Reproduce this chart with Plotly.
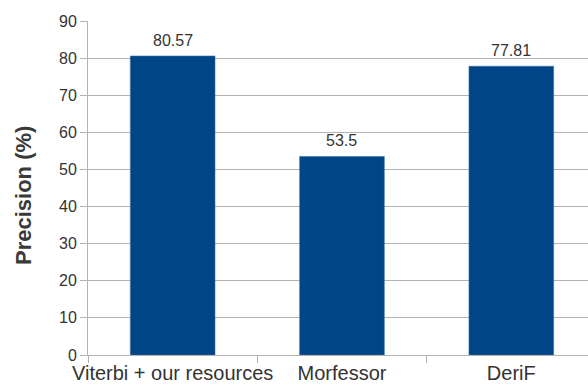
import plotly.graph_objects as go

categories = ["Viterbi + our resources", "Morfessor", "DeriF"]
precision = [80.57, 53.5, 77.81]
value_labels = ["80.57", "53.5", "77.81"]
y_ticks = [0, 10, 20, 30, 40, 50, 60, 70, 80, 90]

FONT = "Liberation Sans, Arial, sans-serif"
GRID = "#b3b3b3"

fig = go.Figure()
fig.add_trace(go.Bar(
    x=categories, y=precision, width=0.5,
    marker=dict(color="#004586", line=dict(color="#3a6ea5", width=0.6)),
    hoverinfo="skip",
))
for c, v, t in zip(categories, precision, value_labels):
    fig.add_annotation(x=c, y=v, text=t, showarrow=False, yanchor="bottom",
                       yshift=5, font=dict(family=FONT, size=16, color="#333333"))

fig.add_annotation(xref="paper", yref="paper", x=0, y=0.476, xanchor="center",
                   yanchor="middle", xshift=-65, textangle=-90, showarrow=False,
                   text="<b>Precision (%)</b>",
                   font=dict(family=FONT, size=22, color="#3a3a3a"))

fig.update_layout(
    width=588, height=385,
    margin=dict(l=88, r=0, t=21, b=30, autoexpand=False),
    paper_bgcolor="white", plot_bgcolor="white",
    showlegend=False,
    font=dict(family=FONT, color="#333333"),
    bargap=0.5,
)
fig.update_xaxes(
    type="category", range=[-0.5, 2.453],
    tickson="boundaries", ticks="outside", ticklen=7, tickcolor=GRID,
    showline=True, linecolor=GRID, linewidth=1,
    showgrid=False, tickangle=0, automargin=False,
    tickfont=dict(family=FONT, size=20, color="#333333"),
)
fig.update_yaxes(
    range=[0, 90], tickvals=y_ticks, automargin=False,
    ticks="outside", ticklen=7, tickcolor=GRID,
    showline=True, linecolor=GRID, linewidth=1,
    showgrid=True, gridcolor=GRID, gridwidth=1,
    zeroline=False,
    tickfont=dict(family=FONT, size=16, color="#333333"),
)
fig.write_html("out.html")
